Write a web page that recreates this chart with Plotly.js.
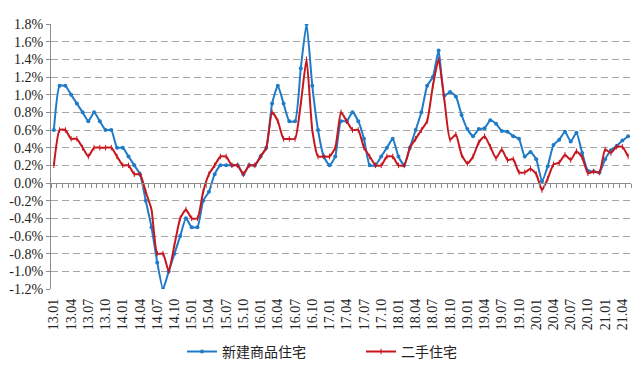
<!DOCTYPE html>
<html>
<head>
<meta charset="utf-8">
<script src="https://cdn.plot.ly/plotly-3.0.1.min.js"></script>
<style>html,body{margin:0;padding:0;background:#fff;}#chart{width:641px;height:372px;}</style>
</head>
<body>
<div id="chart"></div>
<script>
var months = ['13.01','13.02','13.03','13.04','13.05','13.06','13.07','13.08','13.09','13.10','13.11','13.12',
'14.01','14.02','14.03','14.04','14.05','14.06','14.07','14.08','14.09','14.10','14.11','14.12',
'15.01','15.02','15.03','15.04','15.05','15.06','15.07','15.08','15.09','15.10','15.11','15.12',
'16.01','16.02','16.03','16.04','16.05','16.06','16.07','16.08','16.09','16.10','16.11','16.12',
'17.01','17.02','17.03','17.04','17.05','17.06','17.07','17.08','17.09','17.10','17.11','17.12',
'18.01','18.02','18.03','18.04','18.05','18.06','18.07','18.08','18.09','18.10','18.11','18.12',
'19.01','19.02','19.03','19.04','19.05','19.06','19.07','19.08','19.09','19.10','19.11','19.12',
'20.01','20.02','20.03','20.04','20.05','20.06','20.07','20.08','20.09','20.10','20.11','20.12',
'21.01','21.02','21.03','21.04','21.05'];

var tickLabels = ['13.01','13.04','13.07','13.10','14.01','14.04','14.07','14.10','15.01','15.04','15.07','15.10',
'16.01','16.04','16.07','16.10','17.01','17.04','17.07','17.10','18.01','18.04','18.07','18.10',
'19.01','19.04','19.07','19.10','20.01','20.04','20.07','20.10','21.01','21.04'];

var newHome = [0.6,1.1,1.1,1.0,0.9,0.8,0.7,0.8,0.7,0.6,0.6,0.4,
0.4,0.3,0.2,0.1,-0.2,-0.5,-0.9,-1.2,-1.0,-0.8,-0.6,-0.4,
-0.5,-0.5,-0.2,-0.1,0.1,0.2,0.2,0.2,0.2,0.1,0.2,0.2,
0.3,0.4,0.9,1.1,0.9,0.7,0.7,1.3,1.8,1.1,0.6,0.3,
0.2,0.3,0.7,0.7,0.8,0.7,0.5,0.2,0.2,0.3,0.4,0.5,
0.3,0.2,0.4,0.6,0.8,1.1,1.2,1.5,0.99,1.03,0.98,0.77,
0.61,0.53,0.61,0.62,0.71,0.67,0.59,0.58,0.53,0.50,0.30,0.35,
0.27,0.02,0.19,0.43,0.49,0.58,0.47,0.57,0.34,0.14,0.13,0.12,
0.27,0.37,0.42,0.48,0.53];

var secondHand = [0.2,0.6,0.6,0.5,0.5,0.4,0.3,0.4,0.4,0.4,0.4,0.3,
0.2,0.2,0.1,0.1,-0.1,-0.3,-0.8,-0.8,-1.0,-0.7,-0.4,-0.3,
-0.4,-0.4,-0.1,0.1,0.2,0.3,0.3,0.2,0.2,0.1,0.2,0.2,
0.3,0.4,0.8,0.7,0.5,0.5,0.5,0.9,1.4,0.6,0.3,0.3,
0.3,0.4,0.8,0.7,0.6,0.6,0.4,0.3,0.2,0.2,0.3,0.3,
0.2,0.2,0.4,0.5,0.6,0.7,1.1,1.4,0.94,0.49,0.55,0.32,
0.22,0.30,0.46,0.53,0.41,0.28,0.38,0.26,0.27,0.12,0.12,0.16,
0.10,-0.08,0.05,0.21,0.23,0.32,0.26,0.36,0.29,0.11,0.13,0.12,
0.38,0.34,0.41,0.41,0.30];

var yTickVals = [-1.2,-1.0,-0.8,-0.6,-0.4,-0.2,0,0.2,0.4,0.6,0.8,1.0,1.2,1.4,1.6,1.8];
var yTickText = ['-1.2%','-1.0%','-0.8%','-0.6%','-0.4%','-0.2%','0.0%','0.2%','0.4%','0.6%','0.8%','1.0%','1.2%','1.4%','1.6%','1.8%'];

var seriesNames = ['新建商品住宅','二手住宅'];

var serifFont = '"Liberation Serif", "Times New Roman", "DejaVu Serif", serif';

var traces = [
  {x: months, y: newHome, name: seriesNames[0], type: 'scatter', mode: 'lines+markers',
   line: {color: '#1F7BC8', width: 2, shape: 'spline', smoothing: 0.5},
   marker: {color: '#1F7BC8', size: 4, symbol: 'circle'}},
  {x: months, y: secondHand, name: seriesNames[1], type: 'scatter', mode: 'lines+markers',
   line: {color: '#C8161E', width: 2, shape: 'spline', smoothing: 0.5},
   marker: {color: '#C8161E', size: 4, symbol: 'line-ns', line: {color: '#C8161E', width: 1}}},
  {x: [], y: [], xaxis: 'x2', yaxis: 'y', showlegend: false, hoverinfo: 'skip', type: 'scatter', mode: 'lines'}
];

var layout = {
  width: 641, height: 372,
  margin: {l: 51, r: 10, t: 24, b: 83},
  paper_bgcolor: '#ffffff', plot_bgcolor: '#ffffff',
  showlegend: true,
  xaxis: {
    type: 'category', categoryorder: 'array', categoryarray: months,
    range: [-0.5, months.length - 0.5], automargin: false,
    tickmode: 'array', tickvals: tickLabels, ticktext: tickLabels,
    tickangle: -90, ticks: '', showgrid: false, showline: false, zeroline: false,
    ticklabelstandoff: 6,
    tickfont: {family: serifFont, size: 14, color: '#222'}
  },
  xaxis2: {
    overlaying: 'x', anchor: 'free', position: 0.4, type: 'linear', automargin: false,
    range: [-0.5, months.length - 0.5], tickmode: 'linear', tick0: -0.5, dtick: 1,
    ticks: 'outside', ticklen: 4, tickcolor: '#8c8c8c', tickwidth: 1,
    showline: true, linecolor: '#8c8c8c', linewidth: 1,
    showticklabels: false, showgrid: false, zeroline: false
  },
  yaxis: {
    range: [-1.2, 1.8], tickmode: 'array', tickvals: yTickVals, ticktext: yTickText,
    automargin: false,
    showgrid: true, gridcolor: '#a6a6a6', gridwidth: 1, griddash: '7px,4px',
    zeroline: false, showline: true, linecolor: '#8c8c8c', linewidth: 1,
    ticks: 'outside', ticklen: 4, tickcolor: '#8c8c8c',
    tickfont: {family: serifFont, size: 14, color: '#222'}
  },
  legend: {
    orientation: 'h', xref: 'container', yref: 'container',
    x: 0.284, xanchor: 'left', y: 0.054, yanchor: 'middle',
    entrywidth: 134, entrywidthmode: 'pixels',
    font: {family: '"Noto Sans CJK SC", sans-serif', size: 14, color: '#222'},
    bgcolor: 'rgba(0,0,0,0)'
  }
};

Plotly.newPlot('chart', traces, layout, {displayModeBar: false, staticPlot: true});
</script>
</body>
</html>
